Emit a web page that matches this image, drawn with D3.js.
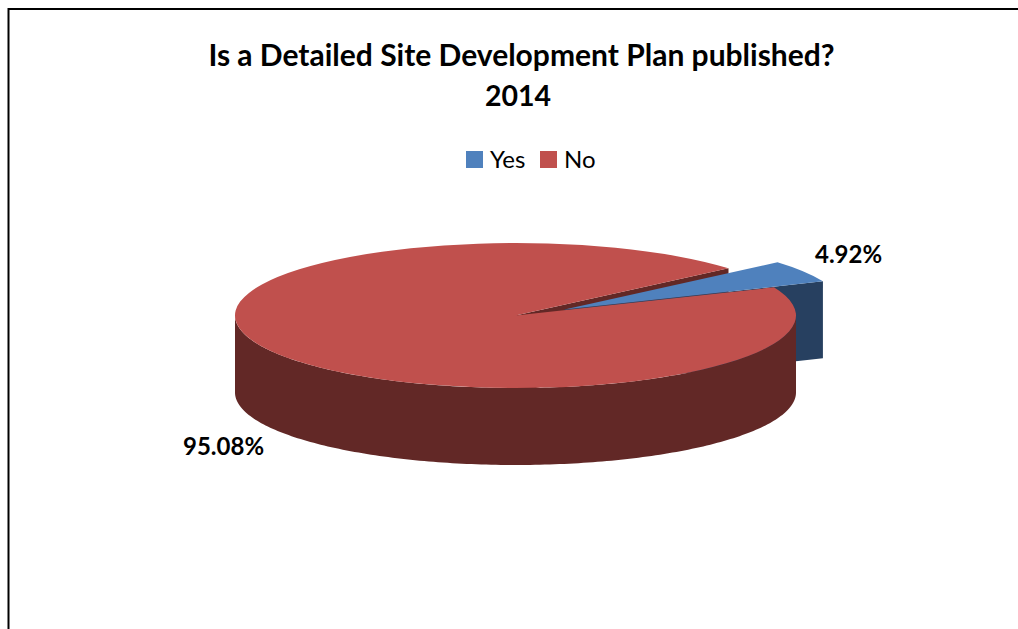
<!DOCTYPE html>
<html>
<head>
<meta charset="utf-8">
<script src="https://cdn.jsdelivr.net/npm/d3@7/dist/d3.min.js"></script>
<style>
html,body{margin:0;padding:0;background:#fff;overflow:hidden}
text{font-family:Lato,"Open Sans",sans-serif;fill:#000}
</style>
</head>
<body>
<svg id="chart" width="1018" height="629"></svg>
<script>
const categories = ["Yes", "No"];
const values = [4.92, 95.08];
const valueLabels = ["4.92%", "95.08%"];
const titleLines = ["Is a Detailed Site Development Plan published?", "2014"];
const topColors = ["#4F81BD", "#C0504D"];
const sideColors = ["#274060", "#622826"];

const W = 1018, H = 629;
const svg = d3.select("#chart");

// frame
svg.append("path")
  .attr("d", `M8.5,${H} L8.5,9 L${W},9`)
  .attr("fill", "none").attr("stroke", "#000").attr("stroke-width", 2);

// title
const titleX = [521.5, 518];
const titleSize = [30, 28.5];
svg.selectAll("text.title").data(titleLines).join("text")
  .attr("class", "title")
  .attr("x", (d, i) => titleX[i])
  .attr("y", (d, i) => 66 + i * 40)
  .attr("text-anchor", "middle")
  .attr("font-size", (d, i) => titleSize[i])
  .attr("font-weight", 700)
  .text(d => d);

// legend
const legendX = [466, 540];
const legend = svg.selectAll("g.legend").data(categories).join("g")
  .attr("class", "legend")
  .attr("transform", (d, i) => `translate(${legendX[i]},151)`);
legend.append("rect").attr("width", 17).attr("height", 17)
  .attr("fill", (d, i) => topColors[i]);
legend.append("text").attr("x", 24).attr("y", 17)
  .attr("font-size", 24).text(d => d);

// pie geometry
const cx = 515.5, cy = 315.5, rx = 280.5, ry = 72.5, depth = 77;
const explode = [[49, -6], [0, 0]];
const rotation = 49.4 * Math.PI / 180;
const pie = d3.pie().sort(null).value(d => d)
  .startAngle(rotation).endAngle(rotation + 2 * Math.PI);
const arcs = pie(values);
const arcGen = d3.arc().innerRadius(0).outerRadius(rx);

const px = (a, i) => cx + explode[i][0] + rx * Math.sin(a);
const py = (a, i) => cy + explode[i][1] - ry * Math.cos(a);
const centre = i => [cx + explode[i][0], cy + explode[i][1]];
const polygon = pts => d3.line()(pts) + "Z";

function cutFace(a, i) {
  const [x0, y0] = centre(i);
  const x1 = px(a, i), y1 = py(a, i);
  return polygon([[x0, y0], [x1, y1], [x1, y1 + depth], [x0, y0 + depth]]);
}
function cap(i) {
  const [x0, y0] = centre(i);
  svg.append("path")
    .attr("d", arcGen(arcs[i]))
    .attr("transform", `translate(${x0},${y0}) scale(1,${ry / rx})`)
    .attr("fill", topColors[i]);
}

// red cut face seen through the gap left by the pulled-out slice
svg.append("path").attr("d", cutFace(arcs[1].endAngle, 1)).attr("fill", sideColors[1]);

// blue slice
svg.append("path").attr("d", cutFace(arcs[0].endAngle, 0)).attr("fill", sideColors[0]);
cap(0);

// red front wall
const frontAngles = d3.range(Math.PI / 2, 3 * Math.PI / 2 + 0.001, Math.PI / 180);
const upper = frontAngles.map(a => [px(a, 1), py(a, 1)]);
const lower = frontAngles.slice().reverse().map(a => [px(a, 1), py(a, 1) + depth]);
svg.append("path").attr("d", polygon(upper.concat(lower))).attr("fill", sideColors[1]);
cap(1);

// value labels
const labelPos = [[815, 263], [183, 455]];
svg.selectAll("text.value").data(valueLabels).join("text")
  .attr("class", "value")
  .attr("x", (d, i) => labelPos[i][0])
  .attr("y", (d, i) => labelPos[i][1])
  .attr("font-size", 24)
  .attr("font-weight", 700)
  .text(d => d);
</script>
</body>
</html>
